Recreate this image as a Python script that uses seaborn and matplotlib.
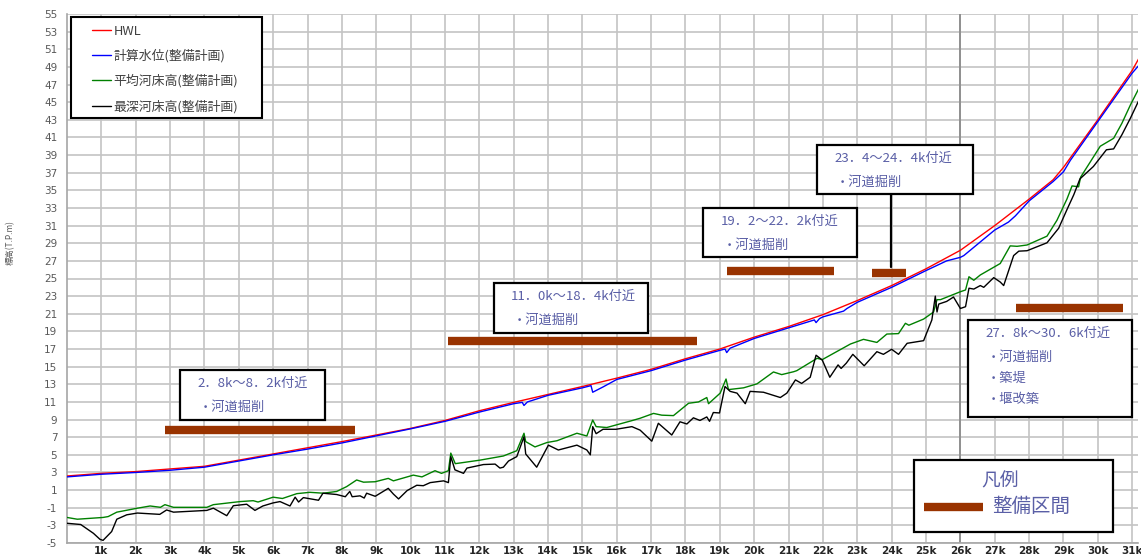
import matplotlib
matplotlib.use("Agg")
import matplotlib.pyplot as plt
import seaborn as sns
from matplotlib.patches import Rectangle

sns.set_style("white")
plt.rcParams['font.family'] = ['Noto Sans CJK JP', 'DejaVu Sans']

# water levels (km, T.P.m)
hwl_km = [0, 1, 2, 3, 4, 5, 6, 7, 8, 9, 10, 11, 12, 13, 14, 15, 16, 17, 18, 19, 20,
          21, 22, 23, 24, 25, 26, 27, 28, 28.7, 29, 30, 31, 31.2]
hwl = [2.6, 2.9, 3.1, 3.4, 3.7, 4.4, 5.1, 5.8, 6.5, 7.25, 8.0, 8.9, 10.0, 10.95, 11.85, 12.75,
       13.7, 14.7, 15.9, 17.0, 18.35, 19.55, 20.9, 22.5, 24.2, 26.1, 28.2, 31.0, 34.0, 36.2,
       37.6, 43.0, 48.6, 50.0]

calc_km = [0, 1, 2, 3, 4, 5, 6, 7, 8, 9, 10, 11, 12, 13, 13.25, 13.3, 13.4, 14, 15, 15.25,
           15.3, 15.6, 16, 17, 18, 19, 19.15, 19.2, 19.3, 20, 21, 21.75, 21.8, 21.9, 22, 22.6,
           22.7, 23, 24, 25, 25.6, 26.0, 26.1, 27, 27.4, 27.6, 28, 28.7, 29, 29.2, 30, 31, 31.2]
calc = [2.5, 2.8, 3.0, 3.25, 3.6, 4.3, 5.0, 5.65, 6.35, 7.15, 7.95, 8.8, 9.85, 10.8, 10.95,
        10.6, 11.0, 11.75, 12.6, 12.85, 12.1, 12.7, 13.55, 14.55, 15.75, 16.85, 17.0, 16.6,
        17.1, 18.2, 19.4, 20.3, 20.0, 20.45, 20.65, 21.3, 21.6, 22.3, 24.0, 25.9, 27.0, 27.4,
        27.6, 30.5, 31.4, 32.1, 33.8, 36.0, 37.1, 38.4, 42.8, 48.3, 49.2]

# average river bed
avg_km = [0, 0.3, 1.05, 1.2, 1.45, 2.05, 2.42, 2.72, 2.85, 3.1, 4.07, 4.26, 5.04, 5.42, 5.56,
          6.0, 6.27, 6.69, 7.07, 7.46, 7.85, 8.14, 8.43, 8.63, 8.97, 9.35, 9.5, 10.08, 10.33,
          10.71, 10.9, 11.1, 11.17, 11.3, 12.02, 12.7, 13.09, 13.3, 13.35, 13.62, 13.97, 14.26,
          14.84, 15.13, 15.3, 15.4, 15.71, 16.44, 16.68, 17.07, 17.31, 17.65, 18.09, 18.38,
          18.62, 18.67, 19.01, 19.18, 19.25, 19.69, 20.08, 20.56, 20.8, 21.15, 21.24, 21.83,
          21.98, 22.8, 23.18, 23.57, 23.86, 24.2, 24.4, 24.5, 24.93, 25.22, 25.32, 25.42, 26.0,
          26.15, 26.25, 26.39, 26.58, 27.16, 27.45, 27.65, 27.94, 28.52, 28.81, 29.1, 29.25,
          29.44, 29.5, 30.07, 30.46, 30.7, 30.95, 31.2]
avg_bed = [-2.1, -2.3, -2.1, -2.0, -1.5, -1.05, -0.8, -0.95, -0.65, -0.95, -0.95, -0.65, -0.3,
           -0.2, -0.35, 0.2, 0.05, 0.6, 0.75, 0.65, 0.85, 1.4, 2.15, 1.9, 1.95, 2.33, 2.05, 2.7,
           2.5, 3.2, 2.9, 3.2, 5.2, 4.0, 4.4, 4.87, 5.47, 7.45, 6.5, 5.9, 6.4, 6.6, 7.45, 7.14,
           8.95, 8.2, 8.1, 8.88, 9.15, 9.7, 9.5, 9.45, 10.85, 11.0, 11.5, 10.8, 12.0, 13.6, 12.4,
           12.6, 13.05, 14.4, 14.1, 14.43, 14.55, 15.95, 15.8, 17.57, 18.1, 17.75, 18.7, 18.75,
           19.92, 19.7, 20.4, 21.2, 22.6, 22.6, 23.5, 23.7, 25.2, 24.8, 25.4, 26.7, 28.7, 28.65,
           28.8, 29.8, 31.6, 34.0, 35.5, 35.4, 36.5, 40.0, 40.9, 42.6, 44.7, 46.6]

# deepest river bed
deep_km = [0, 0.4, 0.77, 0.96, 1.05, 1.3, 1.45, 1.74, 2.05, 2.7, 2.9, 3.1, 4.07, 4.26, 4.65,
           4.84, 5.23, 5.47, 5.7, 6.0, 6.2, 6.49, 6.64, 6.74, 6.88, 7.32, 7.45, 7.85, 8.1, 8.23,
           8.3, 8.53, 8.65, 8.72, 8.97, 9.35, 9.5, 9.65, 9.9, 10.18, 10.37, 10.57, 10.96, 11.1,
           11.17, 11.29, 11.54, 11.64, 12.12, 12.46, 12.6, 12.7, 12.85, 13.09, 13.3, 13.35, 13.67,
           14.01, 14.3, 14.84, 15.13, 15.23, 15.3, 15.4, 15.6, 15.98, 16.44, 16.68, 17.02, 17.21,
           17.6, 17.84, 18.04, 18.23, 18.42, 18.62, 18.7, 18.81, 18.99, 19.15, 19.3, 19.5, 19.74,
           19.88, 20.27, 20.76, 20.95, 21.2, 21.38, 21.63, 21.8, 21.98, 22.2, 22.44, 22.53, 22.68,
           22.87, 23.2, 23.57, 23.76, 24.0, 24.2, 24.45, 24.93, 25.17, 25.27, 25.32, 25.37, 25.6,
           25.8, 26.0, 26.15, 26.25, 26.39, 26.58, 26.68, 26.97, 27.16, 27.26, 27.55, 27.7, 27.94,
           28.52, 28.86, 29.1, 29.3, 29.48, 29.87, 30.25, 30.46, 30.7, 30.95, 31.2]
deep_bed = [-2.76, -2.9, -3.9, -4.58, -4.7, -3.7, -2.3, -1.8, -1.6, -1.75, -1.25, -1.5, -1.3,
            -1.05, -1.9, -0.77, -0.6, -1.3, -0.8, -0.45, -0.3, -0.8, 0.2, -0.35, 0.15, -0.15,
            0.65, 0.5, 0.25, 0.85, 0.25, 0.35, 0.1, 0.65, 0.3, 1.2, 0.55, 0.0, 0.95, 1.55, 1.5,
            1.85, 2.05, 1.85, 4.8, 3.3, 2.9, 3.5, 3.9, 3.95, 3.5, 3.6, 4.3, 4.8, 7.05, 5.1, 3.6,
            6.1, 5.55, 6.1, 5.55, 5.0, 8.2, 7.4, 7.9, 7.9, 8.2, 7.8, 6.55, 8.58, 7.25, 8.75, 8.5,
            9.2, 8.9, 9.3, 8.8, 9.8, 9.75, 12.75, 12.2, 12.0, 10.8, 12.2, 12.1, 11.5, 12.0, 13.5,
            13.1, 13.8, 16.3, 15.75, 13.8, 15.2, 14.8, 15.4, 16.4, 15.1, 16.7, 16.4, 16.97, 16.4,
            17.65, 17.95, 20.3, 23.0, 21.2, 22.1, 22.4, 22.9, 21.6, 21.8, 23.9, 23.8, 24.2, 24.0,
            25.1, 24.6, 24.2, 27.6, 28.1, 28.15, 29.05, 30.7, 32.8, 34.5, 36.3, 37.7, 39.6, 39.7,
            41.3, 43.2, 45.25]

# improvement sections (start km, end km, drawn level)
sec_start = [2.85, 11.09, 19.2, 23.43, 27.63]
sec_end = [8.38, 18.34, 22.33, 24.42, 30.73]
sec_level = [7.77, 17.93, 25.83, 25.66, 21.6]
sec_labels = ["2．8k～8．2k付近", "11．0k～18．4k付近", "19．2～22．2k付近",
              "23．4～24．4k付近", "27．8k～30．6k付近"]
sec_works = [["河道掘削"], ["河道掘削"], ["河道掘削"], ["河道掘削"], ["河道掘削", "築堤", "堰改築"]]

xtick_km = list(range(1, 32))
xtick_labels = [f"{k}k" for k in xtick_km]
ytick_vals = list(range(-5, 56, 2))

fig = plt.figure(figsize=(11.41, 5.57), dpi=100)
ax = fig.add_axes([0.0587, 0.0251, 0.9387, 0.9498])

sns.lineplot(x=hwl_km, y=hwl, color='#ff0000', lw=1.0, label='HWL', ax=ax, zorder=4)
sns.lineplot(x=calc_km, y=calc, color='#0000ff', lw=1.0, label='計算水位(整備計画)', ax=ax, zorder=4)
sns.lineplot(x=avg_km, y=avg_bed, color='#008000', lw=1.0, label='平均河床高(整備計画)', ax=ax, zorder=4)
sns.lineplot(x=deep_km, y=deep_bed, color='#000000', lw=1.0, label='最深河床高(整備計画)', ax=ax, zorder=4)

ax.set_xlim(0, 31.17)
ax.set_ylim(-5, 55)
ax.set_xticks(xtick_km)
ax.set_xticklabels(xtick_labels, fontsize=7.5, color='#262626', family='DejaVu Sans', weight='bold')
ax.set_yticks(ytick_vals)
ax.set_yticklabels([str(v) for v in ytick_vals], fontsize=7.5, color='#595959', family='DejaVu Sans')
ax.tick_params(axis='x', length=0, pad=2)
ax.tick_params(axis='y', length=4, color='#bfbfbf', pad=3)
ax.grid(True, color='#c4c4c4', lw=1.2)
ax.set_axisbelow(True)
ax.axvline(26, color='#909090', lw=1.4, zorder=1)
for s in ['top', 'right']:
    ax.spines[s].set_visible(False)
for s in ['left', 'bottom']:
    ax.spines[s].set_color('#a6a6a6')
    ax.spines[s].set_linewidth(1.2)
ax.set_xlabel('')
ax.set_ylabel('')
fig.text(0.009, 0.565, '標高(T.P.m)', rotation=90, fontsize=6, color='#595959', va='center', ha='center')

# series legend: white box drawn by hand, legend entries on top
ax.add_patch(Rectangle((0.0037, 0.8034), 0.1784, 0.1909, transform=ax.transAxes,
                       fc='white', ec='black', lw=1.5, zorder=9))
leg = ax.legend(loc='upper left', bbox_to_anchor=(0.0233, 0.980), borderaxespad=0, fontsize=9.3,
                frameon=False, handlelength=1.45, handletextpad=0.22, labelspacing=0.9, borderpad=0)
for t in leg.get_texts():
    t.set_color('#404040')
leg.set_zorder(10)

txt_color = '#5a5fa6'
bar_color = '#993300'

# section bars
for a, b, lv in zip(sec_start, sec_end, sec_level):
    ax.plot([a, b], [lv, lv], color=bar_color, lw=6, solid_capstyle='butt', zorder=6)

# annotation boxes: (x0, y0, x1, y1) in data units
boxes = [(3.29, 8.95, 7.51, 14.62), (12.43, 18.82, 16.91, 24.49), (18.52, 27.44, 23.0, 33.0),
         (21.83, 34.59, 26.38, 40.14), (26.23, 9.29, 30.98, 20.3)]
for (x0, y0, x1, y1), lab, works in zip(boxes, sec_labels, sec_works):
    ax.add_patch(Rectangle((x0, y0), x1 - x0, y1 - y0, fc='white', ec='black', lw=1.6, zorder=7))
    ax.text(x0 + 0.5, y1 - 1.55, lab, fontsize=9.5, color=txt_color, va='center', ha='left', zorder=8)
    for i, w in enumerate(works):
        ax.text(x0 + 0.55, y1 - 4.2 - 2.4 * i, '・' + w, fontsize=9.5, color=txt_color,
                va='center', ha='left', zorder=8)

# connector for 23.4-24.4k box
ax.plot([23.99, 23.99], [26.3, 34.59], color='black', lw=1.6, zorder=6)

# legend box bottom right
ax.add_patch(Rectangle((24.66, -3.7), 5.79, 8.1, fc='white', ec='black', lw=1.6, zorder=7))
ax.text(27.16, 2.0, '凡例', fontsize=13.5, color=txt_color, ha='center', va='center', zorder=8)
ax.plot([24.95, 26.67], [-0.9, -0.9], color=bar_color, lw=6, solid_capstyle='butt', zorder=8)
ax.text(26.93, -0.9, '整備区間', fontsize=14, color=txt_color, ha='left', va='center', zorder=8)

fig.savefig('out.png', dpi=100)
